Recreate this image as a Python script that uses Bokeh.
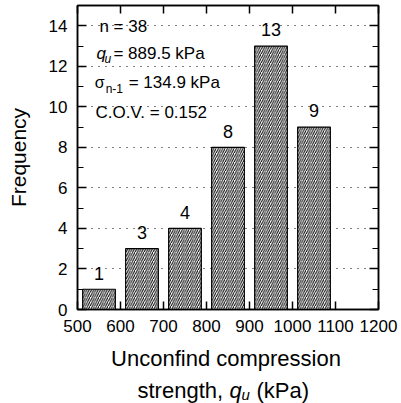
from bokeh.plotting import figure
from bokeh.models import LinearAxis, Label, Range1d, FixedTicker, ColumnDataSource
from bokeh.layouts import column
from bokeh.embed import file_html
from bokeh.resources import INLINE

# ---- data ----
bin_centers = [550, 650, 750, 850, 950, 1050]
counts = [1, 3, 4, 8, 13, 9]
count_labels = ["1", "3", "4", "8", "13", "9"]
x_ticks = [500, 600, 700, 800, 900, 1000, 1100, 1200]
y_ticks = [0, 2, 4, 6, 8, 10, 12, 14]
y_minor = list(range(0, 16))
stat_n = "n = 38"
stat_qu = "= 889.5 kPa"
stat_sd = "= 134.9 kPa"
stat_cov = "C.O.V. = 0.152"
xtitle_1 = "Unconfind compression"
xtitle_2 = ["strength,", "q", "u", "(kPa)"]

FONT = "Liberation Sans"

p = figure(width=401, height=343, output_backend="svg", toolbar_location=None,
           title=None,
           x_range=Range1d(500, 1200), y_range=Range1d(0, 15),
           min_border_left=77, min_border_right=23, min_border_top=5, min_border_bottom=34,
           x_axis_location=None, y_axis_location=None)
p.outline_line_color = "black"
p.outline_line_width = 1.5
p.background_fill_color = "white"
p.border_fill_color = "white"

src = ColumnDataSource(dict(x=bin_centers, top=counts, lab=count_labels,
                            ly=[c + 0.8 for c in counts]))
p.vbar(x="x", top="top", bottom=0, width=76, source=src,
       fill_color="white", line_color="black", line_width=1.2,
       hatch_pattern="/", hatch_color="black", hatch_scale=4.5, hatch_weight=1.0)

def mk_axis(side, ticks, labels=True, minor=False, is_x=True):
    ax = LinearAxis(ticker=FixedTicker(ticks=ticks, minor_ticks=(y_minor if minor else [])))
    ax.axis_line_color = "black"
    ax.axis_line_width = 1.5
    ax.major_tick_line_color = "black"
    ax.major_tick_line_width = 1.5
    ax.minor_tick_line_color = "black"
    ax.minor_tick_line_width = 1.2
    ax.major_tick_in = 9 if not is_x else 8
    ax.major_tick_out = 0
    ax.minor_tick_in = 6
    ax.minor_tick_out = 0
    if labels:
        ax.major_label_text_font = FONT
        ax.major_label_text_font_size = "17px"
        ax.major_label_text_color = "black"
        ax.major_label_standoff = 10
    else:
        ax.major_label_overrides = {t: "" for t in ticks}
        ax.major_label_text_font_size = "1px"
        ax.major_label_standoff = 0
    p.add_layout(ax, side)
    return ax

ax_b = mk_axis("below", x_ticks, True, False, True)
ax_t = mk_axis("above", x_ticks, False, False, True)
ax_l = mk_axis("left", y_ticks, True, True, False)
ax_r = mk_axis("right", y_ticks, False, True, False)
ax_l.axis_label = "Frequency"
ax_l.axis_label_text_font = FONT
ax_l.axis_label_text_font_size = "21px"
ax_l.axis_label_text_font_style = "normal"
ax_l.axis_label_text_color = "black"
ax_l.axis_label_standoff = 16

p.ygrid.ticker = FixedTicker(ticks=y_ticks[1:])
p.ygrid.grid_line_color = "black"
p.ygrid.grid_line_dash = "1 6"
p.ygrid.grid_line_width = 1
p.xgrid.grid_line_color = None

def lab(fig, x, y, text, size="17px", style="normal", off=0, align="left", base="middle"):
    l = Label(x=x, y=y, text=text, x_offset=off, text_font=FONT, text_font_size=size,
              text_font_style=style, text_color="black", text_align=align,
              text_baseline=base)
    fig.add_layout(l)

# count labels
for xc, yc, t in zip(src.data["x"], src.data["ly"], count_labels):
    lab(p, xc, yc, t, size="18px", align="center")

# statistics box
lab(p, 551, 13.96, stat_n)
lab(p, 544, 12.63, "q", style="italic")
lab(p, 544, 12.36, "u", size="12px", style="italic", off=8)
lab(p, 544, 12.63, stat_qu, off=17)
lab(p, 540, 11.2, "σ", size="16px")
lab(p, 540, 10.9, "n-1", size="12px", off=11)
lab(p, 540, 11.2, stat_sd, off=34)
lab(p, 542, 9.72, stat_cov)

# x axis title (two lines) in a strip below the chart
t = figure(width=401, height=60, output_backend="svg", toolbar_location=None,
           title=None,
           x_range=Range1d(77, 378), y_range=Range1d(403, 343),
           min_border_left=77, min_border_right=23, min_border_top=0, min_border_bottom=0,
           x_axis_location=None, y_axis_location=None)
t.outline_line_color = None
t.xgrid.visible = False
t.ygrid.visible = False
t.background_fill_color = "white"
t.border_fill_color = "white"
lab(t, 225.5, 358, xtitle_1, size="22px", align="center", base="alphabetic")
x0 = 137
lab(t, x0, 390, xtitle_2[0], size="22px", base="alphabetic")
lab(t, x0, 390, xtitle_2[1], size="22px", style="italic", off=92, base="alphabetic")
lab(t, x0, 394, xtitle_2[2], size="15px", style="italic", off=104, base="alphabetic")
lab(t, x0, 390, xtitle_2[3], size="22px", off=119, base="alphabetic")

layout = column(p, t, spacing=0)
open("out.html", "w").write(file_html(layout, INLINE))
